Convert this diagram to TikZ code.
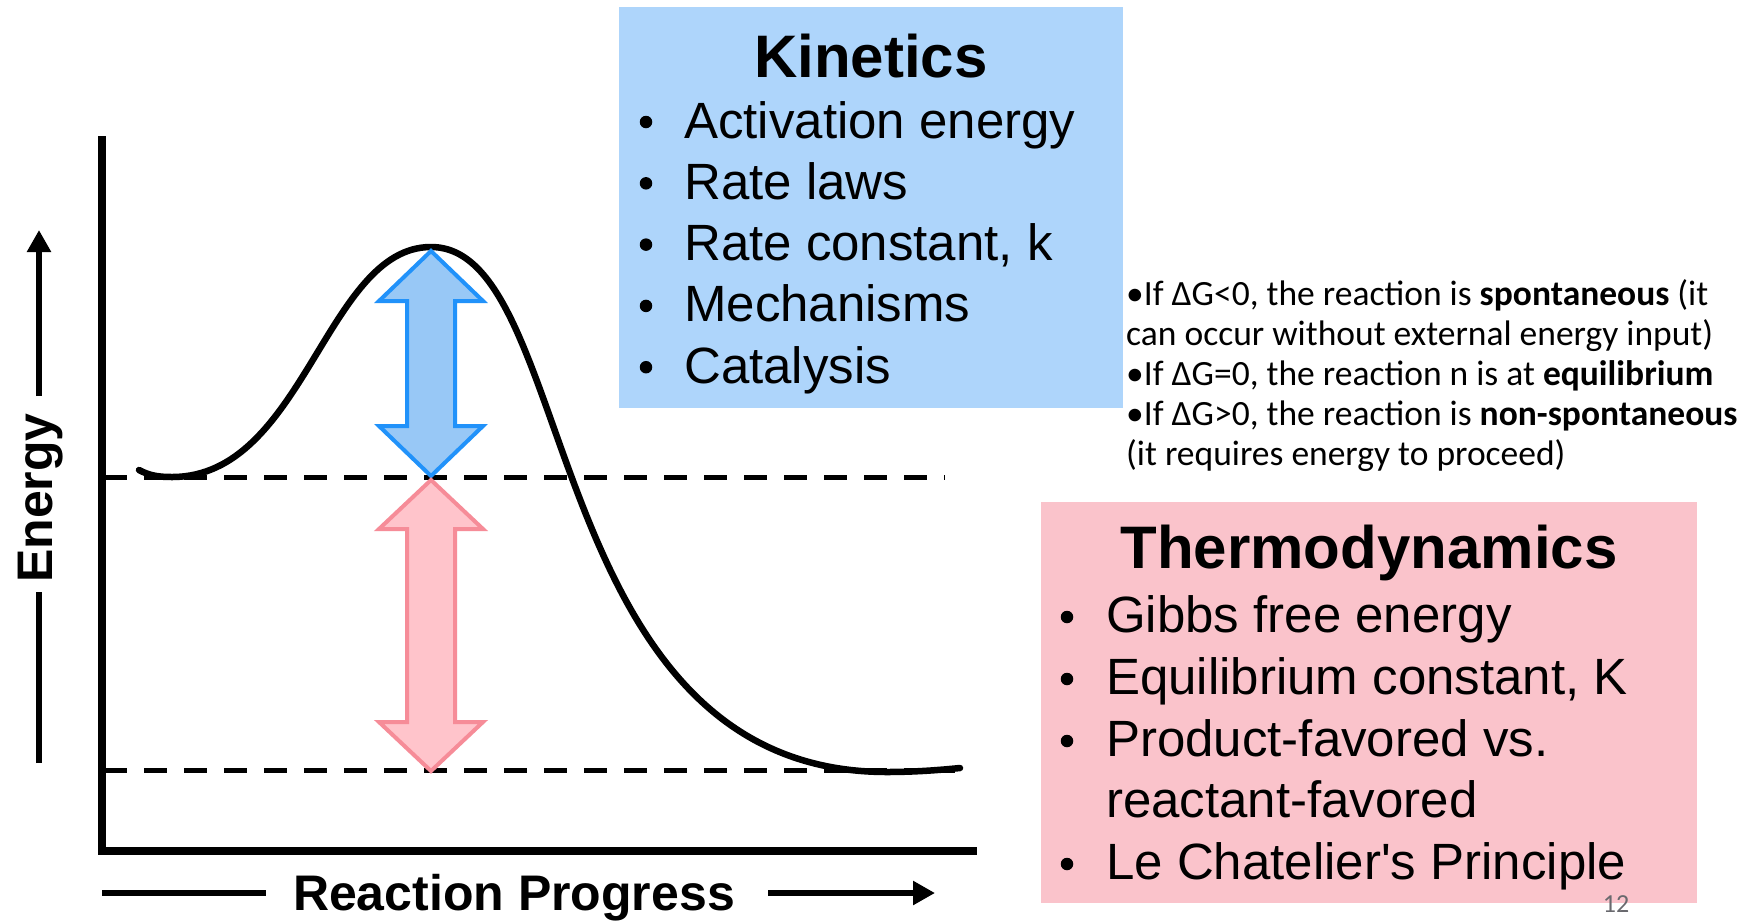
\documentclass[tikz,border=0pt]{standalone}
\usepackage{fontspec}
\setmainfont{Liberation Sans}[Ligatures=TeXOff]
\newfontfamily\califont{Carlito}
\usetikzlibrary{arrows.meta}
\definecolor{kinfill}{RGB}{174,213,251}
\definecolor{thfill}{RGB}{250,195,203}
\definecolor{barfill}{RGB}{152,200,246}
\definecolor{barline}{RGB}{33,146,250}
\definecolor{parfill}{RGB}{255,196,203}
\definecolor{parline}{RGB}{246,140,152}
\definecolor{pagegray}{RGB}{105,105,110}
\tikzset{
  kinbox/.style={fill=kinfill, draw=none, inner sep=0pt},
  thbox/.style={fill=thfill, draw=none, inner sep=0pt},
  title/.style={inner sep=0pt, font=\fontsize{60}{72}\selectfont\bfseries},
  item/.style={inner sep=0pt, font=\fontsize{51}{61}\selectfont},
  dot/.style={circle, fill=black, draw=none, inner sep=0pt, minimum size=12.5pt},
  axlabel/.style={inner sep=0pt, font=\fontsize{50}{60}\selectfont\bfseries},
  note/.style={inner sep=0pt, font=\fontsize{35.5}{41}\selectfont\califont},
  axisline/.style={line width=7.5pt, line join=miter},
  guide/.style={line width=5pt, dash pattern=on 23pt off 17pt},
  curve/.style={line width=6.5pt, line cap=round},
  eline/.style={line width=6.5pt},
  blueArrow/.style={fill=barfill, draw=barline, line width=4pt, line join=miter},
  pinkArrow/.style={fill=parfill, draw=parline, line width=4pt, line join=miter},
}
\begin{document}
\begin{tikzpicture}[x=1pt, y=-1pt]
\useasboundingbox (0,0) rectangle (1751,922);
\fill[white] (0,0) rectangle (1751,922);

% Kinetics box
\node[kinbox, minimum width=504pt, minimum height=401pt] (kin) at (871,207.5) {};
\node[title, anchor=base] (kint) at (871,77) {Kinetics};
\foreach \t [count=\i] in {Activation energy, Rate laws, {Rate constant, k}, Mechanisms, Catalysis} {
  \node[dot] (kb\i) at (646,{122+61.3*(\i-1)}) {};
  \node[item, anchor=base west] (k\i) at (684,{138+61.3*(\i-1)}) {\t};
}

% Thermodynamics box
\node[thbox, minimum width=656pt, minimum height=401pt] (th) at (1369,702.5) {};
\node[title, anchor=base] (tht) at (1369,568) {Thermodynamics};
\node[dot] (tb1) at (1067,617) {};
\node[item, anchor=base west] (t1) at (1106,632) {Gibbs free energy};
\node[dot] (tb2) at (1067,679) {};
\node[item, anchor=base west] (t2) at (1106,694) {Equilibrium constant, K};
\node[dot] (tb3) at (1067,741) {};
\node[item, anchor=base west] (t3) at (1106,756) {Product-favored vs.};
\node[item, anchor=base west] (t4) at (1106,817) {reactant-favored};
\node[dot] (tb5) at (1067,864) {};
\node[item, anchor=base west] (t5) at (1106,879) {Le Chatelier's Principle};
\node[anchor=base, inner sep=0pt, text=pagegray, font=\fontsize{26}{30}\selectfont\califont] (pg) at (1616,912) {12};

% Gibbs notes
\node[note, anchor=base west] (n1) at (1126,305) {•If ΔG<0, the reaction is \textbf{spontaneous} (it};
\node[note, anchor=base west] (n2) at (1126,345) {can occur without external energy input)};
\node[note, anchor=base west] (n3) at (1126,385) {•If ΔG=0, the reaction n is at \textbf{equilibrium}};
\node[note, anchor=base west] (n4) at (1126,425) {•If ΔG>0, the reaction is \textbf{non-spontaneous}};
\node[note, anchor=base west] (n5) at (1126,465) {(it requires energy to proceed)};

% guide lines
\coordinate (r1) at (104,477);
\coordinate (r2) at (945,477);
\coordinate (p1) at (104,770);
\coordinate (p2) at (955,770);
\draw[guide] (r1) -- (r2);
\draw[guide] (p1) -- (p2);

% axes
\coordinate (ytop) at (102,136);
\coordinate (orig) at (102,851);
\coordinate (xend) at (977,851);
\draw[axisline] (ytop) -- (orig) -- (xend);

% energy profile
\coordinate (c0) at (139,470);
\coordinate (cmin) at (172,477);
\coordinate (peak) at (431,247);
\coordinate (cbot) at (887,772);
\coordinate (cend) at (960,768);
\draw[curve] (c0) .. controls (150,476) and (160,477) .. (cmin)
  .. controls (304,477) and (326,247) .. (peak)
  .. controls (579,247) and (539,772) .. (cbot)
  .. controls (915,772) and (940,770) .. (cend);

% blue double arrow (activation energy)
\draw[blueArrow] (431,251) -- (483,301) -- (455,301) -- (455,426) -- (483,426) -- (431,476)
  -- (379,426) -- (407,426) -- (407,301) -- (379,301) -- cycle;
% pink double arrow (free energy change)
\draw[pinkArrow] (431,480) -- (483,529) -- (455,529) -- (455,722) -- (483,722) -- (431,771)
  -- (379,722) -- (407,722) -- (407,529) -- (379,529) -- cycle;

% axis labels
\node[axlabel, rotate=90, anchor=base] (elab) at (52,498) {Energy};
\coordinate (e1) at (39,763);
\coordinate (e2) at (39,592);
\coordinate (e3) at (39,396);
\coordinate (e4) at (39,230);
\draw[eline] (e1) -- (e2);
\draw[eline, -{Triangle[length=22pt, width=23pt]}] (e3) -- (e4);

\node[axlabel, anchor=base] (xlab) at (514,910) {Reaction Progress};
\coordinate (x1) at (102,893);
\coordinate (x2) at (266,893);
\coordinate (x3) at (768,893);
\coordinate (x4) at (935,893);
\draw[eline] (x1) -- (x2);
\draw[eline, -{Triangle[length=22pt, width=23pt]}] (x3) -- (x4);
\end{tikzpicture}
\end{document}
